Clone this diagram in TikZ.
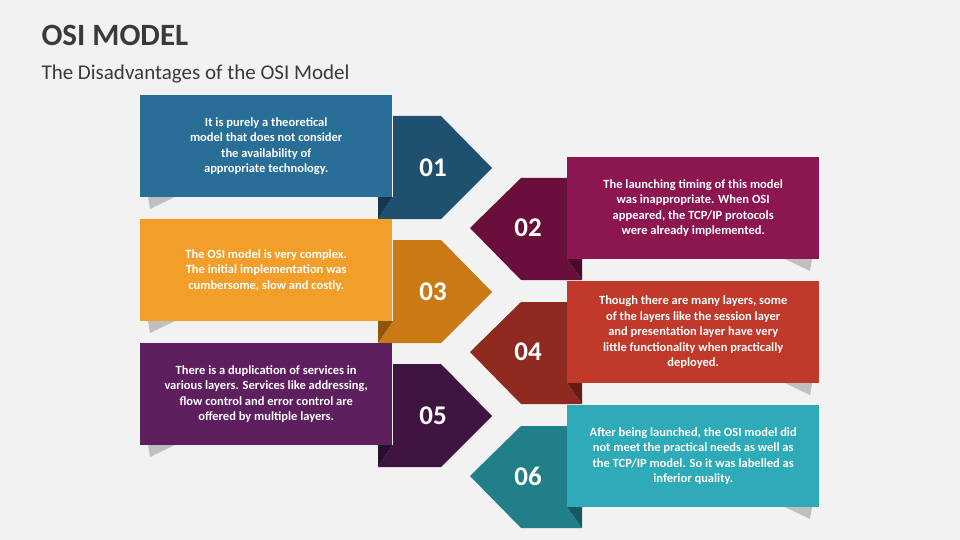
\documentclass[tikz,border=0pt]{standalone}
\usepackage{fontspec}
\setmainfont{Carlito}
\definecolor{bgc}{HTML}{F2F2F2}
\definecolor{ttl}{HTML}{3A3A3A}
\definecolor{boxa}{HTML}{286E96}\definecolor{arra}{HTML}{1F5070}
\definecolor{boxb}{HTML}{8C1650}\definecolor{arrb}{HTML}{6A0F3B}
\definecolor{boxc}{HTML}{F29E2A}\definecolor{arrc}{HTML}{C97A14}
\definecolor{boxd}{HTML}{C0392B}\definecolor{arrd}{HTML}{8E2A20}
\definecolor{boxe}{HTML}{5E1F5E}\definecolor{arre}{HTML}{3F1440}
\definecolor{boxf}{HTML}{2EAAB8}\definecolor{arrf}{HTML}{217F8A}
\tikzset{
  infobox/.style={rectangle, minimum width=252pt, minimum height=102pt, inner sep=0pt,
    text=white, font=\fontsize{12.5}{15.5}\selectfont\bfseries, align=center},
  numtext/.style={text=white, font=\fontsize{27}{27}\selectfont\bfseries}
}
% left item: #1 name, #2 top y, #3 box colour, #4 arrow colour, #5 number, #6 text
\newcommand{\leftitem}[6]{
  \fill[black!25] (148,#2+102) -- (175,#2+102) -- (150,#2+114) -- cycle;
  \fill[#4] (393,#2+21) -- (441,#2+21) -- (492,#2+73) -- (441,#2+124) -- (378,#2+124) -- (393,#2+102) -- cycle;
  \fill[#4!70!black] (378,#2+102) -- (393,#2+102) -- (378,#2+124) -- cycle;
  \node[infobox, fill=#3, anchor=north west] (#1) at (140,#2) {#6};
  \node[numtext] (#1num) at (433,#2+73) {#5};
}
% right item
\newcommand{\rightitem}[6]{
  \fill[black!25] (812,#2+102) -- (785,#2+102) -- (810,#2+114) -- cycle;
  \fill[#4] (567,#2+21) -- (521,#2+21) -- (470,#2+71) -- (521,#2+123) -- (582,#2+123) -- (567,#2+102) -- cycle;
  \fill[#4!70!black] (582,#2+102) -- (567,#2+102) -- (582,#2+123) -- cycle;
  \node[infobox, fill=#3, anchor=north west] (#1) at (567,#2) {#6};
  \node[numtext] (#1num) at (528,#2+71) {#5};
}
\begin{document}
\begin{tikzpicture}[x=1pt, y=-1pt]
  \fill[bgc] (0,0) rectangle (960,540);
  \node[anchor=west, text=ttl, font=\fontsize{31}{31}\selectfont\bfseries] (title) at (38,35) {OSI MODEL};
  \node[anchor=west, text=ttl, font=\fontsize{21}{21}\selectfont] (subtitle) at (38,74) {The Disadvantages of the OSI Model};

  % left column
  \leftitem{one}{95}{boxa}{arra}{01}{It is purely a theoretical\\model that does not consider\\the availability of\\appropriate technology.}
  \leftitem{three}{219}{boxc}{arrc}{03}{The OSI model is very complex.\\The initial implementation was\\cumbersome, slow and costly.}
  \leftitem{five}{343}{boxe}{arre}{05}{There is a duplication of services in\\various layers. Services like addressing,\\flow control and error control are\\offered by multiple layers.}

  % right column
  \rightitem{two}{157}{boxb}{arrb}{02}{The launching timing of this model\\was inappropriate. When OSI\\appeared, the TCP/IP protocols\\were already implemented.}
  \rightitem{four}{281}{boxd}{arrd}{04}{Though there are many layers, some\\of the layers like the session layer\\and presentation layer have very\\little functionality when practically\\deployed.}
  \rightitem{six}{405}{boxf}{arrf}{06}{After being launched, the OSI model did\\not meet the practical needs as well as\\the TCP/IP model. So it was labelled as\\inferior quality.}
\end{tikzpicture}
\end{document}
